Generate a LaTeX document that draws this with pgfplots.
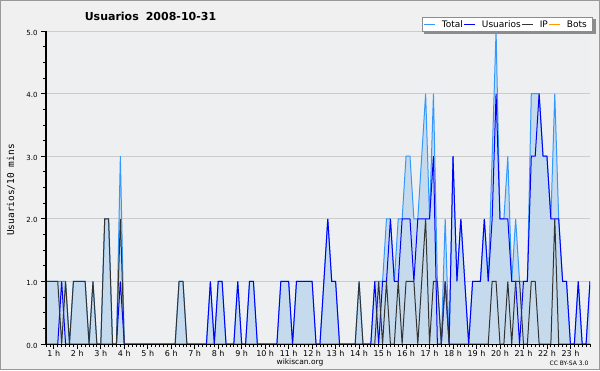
\documentclass[border=0pt]{standalone}
\usepackage{fontspec}
\setmainfont{DejaVu Sans}
\setmonofont{DejaVu Sans Mono}
\usepackage{pgfplots}
\pgfplotsset{compat=1.18}
\usepackage{pgfplotstable}

\definecolor{bgout}{HTML}{F0F0F0}
\definecolor{bgplot}{HTML}{EEEFF1}
\definecolor{totalc}{HTML}{3399FF}
\definecolor{userc}{HTML}{0000FF}
\definecolor{ipc}{HTML}{333333}
\definecolor{botc}{HTML}{FF9900}
\definecolor{fillc}{RGB}{187,213,237}
\definecolor{gridc}{HTML}{CCCCCC}

\pgfplotsset{
  legend image code/.code={\draw[#1] (0pt,0pt) -- (11pt,0pt);},
}

\pgfplotstableread{
j T U IP B
4 1 0 1 0
5 1 0 1 0
6 1 0 1 0
7 1 0 1 0
8 1 1 0 0
9 1 0 1 0
10 0 0 0 0
11 1 0 1 0
12 1 0 1 0
13 1 0 1 0
14 1 0 1 0
15 0 0 0 0
16 1 0 1 0
17 0 0 0 0
18 0 0 0 0
19 2 0 2 0
20 2 0 2 0
21 0 0 0 0
22 0 0 0 0
23 3 1 2 0
24 0 0 0 0
25 0 0 0 0
26 0 0 0 0
27 0 0 0 0
28 0 0 0 0
29 0 0 0 0
30 0 0 0 0
31 0 0 0 0
32 0 0 0 0
33 0 0 0 0
34 0 0 0 0
35 0 0 0 0
36 0 0 0 0
37 0 0 0 0
38 1 0 1 0
39 1 0 1 0
40 0 0 0 0
41 0 0 0 0
42 0 0 0 0
43 0 0 0 0
44 0 0 0 0
45 0 0 0 0
46 1 1 0 0
47 0 0 0 0
48 1 1 0 0
49 1 1 0 0
50 0 0 0 0
51 0 0 0 0
52 0 0 0 0
53 1 1 0 0
54 0 0 0 0
55 0 0 0 0
56 1 1 0 0
57 1 1 0 0
58 0 0 0 0
59 0 0 0 0
60 0 0 0 0
61 0 0 0 0
62 0 0 0 0
63 0 0 0 0
64 1 1 0 0
65 1 1 0 0
66 1 1 0 0
67 0 0 0 0
68 1 1 0 0
69 1 1 0 0
70 1 1 0 0
71 1 1 0 0
72 1 1 0 0
73 0 0 0 0
74 0 0 0 0
75 1 1 0 0
76 2 2 0 0
77 1 1 0 0
78 1 1 0 0
79 0 0 0 0
80 0 0 0 0
81 0 0 0 0
82 0 0 0 0
83 0 0 0 0
84 1 0 1 0
85 0 0 0 0
86 0 0 0 0
87 0 0 0 0
88 1 1 0 0
89 1 0 1 0
90 1 1 0 0
91 2 1 1 0
92 2 2 0 0
93 1 1 0 0
94 2 1 1 0
95 2 2 0 0
96 3 2 1 0
97 3 2 1 0
98 2 1 1 0
99 2 2 0 0
100 3 2 1 0
101 4 2 2 0
102 2 2 0 0
103 4 3 1 0
104 1 0 1 0
105 0 0 0 0
106 2 1 1 0
107 0 0 0 0
108 3 3 0 0
109 1 1 0 0
110 2 2 0 0
111 1 1 0 0
112 0 0 0 0
113 1 1 0 0
114 1 1 0 0
115 1 1 0 0
116 2 2 0 0
117 1 1 0 0
118 3 2 1 0
119 5 4 1 0
120 2 2 0 0
121 2 2 0 0
122 3 2 1 0
123 1 1 0 0
124 2 1 1 0
125 1 0 1 0
126 1 1 0 0
127 1 1 0 0
128 4 3 1 0
129 4 3 1 0
130 4 4 0 0
131 3 3 0 0
132 3 3 0 0
133 2 2 0 0
134 4 2 2 0
135 2 2 0 0
136 1 1 0 0
137 1 1 0 0
138 0 0 0 0
139 0 0 0 0
140 1 1 0 0
141 0 0 0 0
142 0 0 0 0
143 1 1 0 0
}\data

\begin{document}
\begin{tikzpicture}[x=1pt,y=1pt]
\path[use as bounding box] (0,0) rectangle (600,370);
\fill[bgout] (0,0) rectangle (600,370);
\draw[color=black!40, line width=1pt] (0.5,0.5) rectangle (599.5,369.5);
\fill[white] (422,338) rectangle (593,353);
\draw[black!45, line width=1pt] (422.5,338.5) rectangle (592.5,352.5);
\begin{axis}[
  at={(46pt,26pt)}, anchor=south west,
  scale only axis, width=544pt, height=313pt,
  xmin=4, xmax=143, ymin=0, ymax=5,
  axis lines=left,
  axis line style={-, black, line width=1pt},
  axis background/.style={fill=bgplot},
  tick align=outside,
  major tick length=5pt, minor tick length=3pt,
  every tick/.style={black, line width=0.8pt},
  xtick={6,12,...,138},
  xticklabels={1 h,2 h,3 h,4 h,5 h,6 h,7 h,8 h,9 h,10 h,11 h,12 h,13 h,14 h,15 h,16 h,17 h,18 h,19 h,20 h,21 h,22 h,23 h},
  minor xtick={4,...,143},
  ytick={0,1,...,5},
  minor y tick num=3,
  ymajorgrids,
  major grid style={gridc, line width=1pt},
  /pgf/number format/.cd, fixed, fixed zerofill, precision=1, assume math mode=true,
  /pgfplots/.cd,
  xticklabel style={font=\fontsize{8}{9}\selectfont, anchor=base, yshift=-7pt},
  yticklabel style={font=\fontsize{7}{8}\selectfont, anchor=east, yshift=-1.5pt},
  ylabel={Usuarios/10 mins},
  ylabel style={at={(rel axis cs:-0.0643,0.492)}, anchor=center, font=\ttfamily\fontsize{9.5}{10}\selectfont},
  legend columns=4,
  legend style={at={(1.0055,0.9968)}, anchor=south east, draw=none, fill=none,
    font=\fontsize{9}{10}\selectfont, inner xsep=3pt, inner ysep=1pt,
    nodes={inner xsep=3pt, inner ysep=2.5pt, text height=7pt, text depth=1pt},
    /tikz/every odd column/.append style={column sep=3pt},
    /tikz/every even column/.append style={column sep=-2pt}},
]
\addplot[draw=none, fill=fillc, fill opacity=0.8, forget plot] table[x=j,y=T]{\data} \closedcycle;
\addplot[draw=totalc, line width=1pt] table[x=j,y=T]{\data};
\addlegendentry{Total}
\addplot[draw=userc, line width=1pt] table[x=j,y=U]{\data};
\addlegendentry{Usuarios}
\addplot[draw=ipc, line width=1pt] table[x=j,y=IP]{\data};
\addlegendentry{IP}
\addplot[draw=botc, line width=1pt] table[x=j,y=B]{\data};
\addlegendentry{Bots}
\end{axis}
\draw[black, line width=1pt] (46,339) -- (46,26) -- (590,26);
\draw[black!45, line width=1pt] (422,338.5) -- (593,338.5);
\fill[black!45] (593,336) rectangle (595.5,351);
\fill[black!45] (424,336) rectangle (595.5,338);
\node[font=\bfseries\fontsize{11}{12}\selectfont, anchor=base] at (150.5,349.3) {Usuarios\hspace{7pt}2008-10-31};
\node[font=\fontsize{7.5}{8}\selectfont, anchor=base] at (300,6) {wikiscan.org};
\node[font=\fontsize{6}{7}\selectfont, anchor=base] at (569,5) {CC BY-SA 3.0};
\end{tikzpicture}
\end{document}
